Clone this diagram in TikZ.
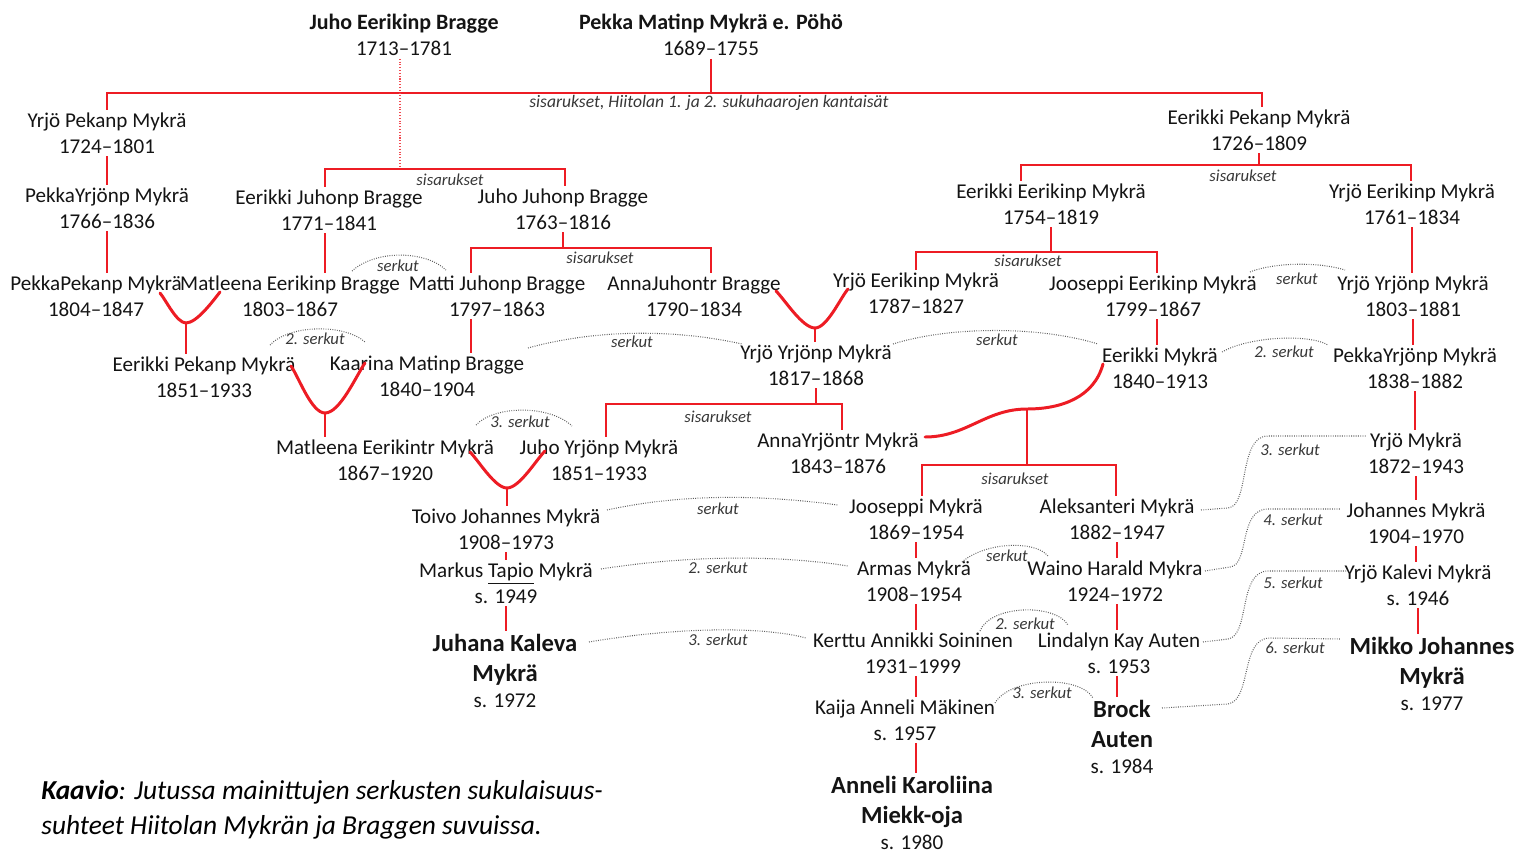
\documentclass[tikz,border=0pt]{standalone}
\usepackage{fontspec}
\setmainfont{Carlito}
\definecolor{kinRed}{RGB}{237,28,36}
\definecolor{dotGray}{RGB}{95,95,95}
\definecolor{inkGray}{RGB}{20,20,20}
\newcommand{\topname}[1]{{\fontsize{12.5}{14.8}\selectfont\bfseries #1}}

\begin{document}
\begin{tikzpicture}[x=0.02cm, y=-0.02cm,
            personNode/.style={align=center, inner sep=1.5pt, text=inkGray, font=\fontsize{12}{14.8}\selectfont},
            keyNode/.style={personNode, font=\fontsize{14}{17}\selectfont},
            tagNode/.style={inner sep=0pt, text=inkGray!85, font=\fontsize{9.5}{11}\selectfont\itshape},
            kinLine/.style={draw=kinRed, line width=0.9pt},
            wedLine/.style={draw=kinRed, line width=1.7pt, line cap=round},
            cousinLine/.style={draw=dotGray, line width=0.6pt, dash pattern=on 0.5pt off 0.8pt}]

            \useasboundingbox (0,0) rectangle (1521,852);

            % people
            \node [personNode] (juhoEB) at (404,35) {\topname{Juho Eerikinp Bragge}\\1713–1781};
            \node [personNode] (pekkaMM) at (711,35) {\topname{Pekka Matinp Mykrä e. Pöhö}\\1689–1755};
            \node [personNode] (yrjoPM) at (107,133) {Yrjö Pekanp Mykrä\\1724–1801};
            \node [personNode] (eerikkiPM) at (1259,130) {Eerikki Pekanp Mykrä\\1726–1809};
            \node [personNode] (pekkaYM1) at (107,208) {PekkaYrjönp Mykrä\\1766–1836};
            \node [personNode] (eerikkiJB) at (329,210) {Eerikki Juhonp Bragge\\1771–1841};
            \node [personNode] (juhoJB) at (563,209) {Juho Juhonp Bragge\\1763–1816};
            \node [personNode] (eerikkiEM) at (1051,204) {Eerikki Eerikinp Mykrä\\1754–1819};
            \node [personNode] (yrjoEM) at (1412,204) {Yrjö Eerikinp Mykrä\\1761–1834};
            \node [personNode] (pekkaPM) at (96,296) {PekkaPekanp Mykrä\\1804–1847};
            \node [personNode] (matleenaEB) at (290,296) {Matleena Eerikinp Bragge\\1803–1867};
            \node [personNode] (mattiJB) at (497,296) {Matti Juhonp Bragge\\1797–1863};
            \node [personNode] (annaJB) at (694,296) {AnnaJuhontr Bragge\\1790–1834};
            \node [personNode] (yrjoEM2) at (916,293) {Yrjö Eerikinp Mykrä\\1787–1827};
            \node [personNode] (jooseppiEM) at (1153,296) {Jooseppi Eerikinp Mykrä\\1799–1867};
            \node [personNode] (yrjoYM1) at (1413,296) {Yrjö Yrjönp Mykrä\\1803–1881};
            \node [personNode] (eerikkiPM2) at (204,377) {Eerikki Pekanp Mykrä\\1851–1933};
            \node [personNode] (kaarinaMB) at (427,376) {Kaarina Matinp Bragge\\1840–1904};
            \node [personNode] (yrjoYM2) at (816,365) {Yrjö Yrjönp Mykrä\\1817–1868};
            \node [personNode] (eerikkiM) at (1160,368) {Eerikki Mykrä\\1840–1913};
            \node [personNode] (pekkaYM2) at (1415,368) {PekkaYrjönp Mykrä\\1838–1882};
            \node [personNode] (matleenaEM) at (385,460) {Matleena Eerikintr Mykrä\\1867–1920};
            \node [personNode] (juhoYM) at (599,460) {Juho Yrjönp Mykrä\\1851–1933};
            \node [personNode] (annaYM) at (838,453) {AnnaYrjöntr Mykrä\\1843–1876};
            \node [personNode] (yrjoM) at (1416,453) {Yrjö Mykrä\\1872–1943};
            \node [personNode] (toivoJM) at (506,529) {Toivo Johannes Mykrä\\1908–1973};
            \node [personNode] (jooseppiM) at (916,519) {Jooseppi Mykrä\\1869–1954};
            \node [personNode] (aleksanteriM) at (1117,519) {Aleksanteri Mykrä\\1882–1947};
            \node [personNode] (johannesM) at (1416,523) {Johannes Mykrä\\1904–1970};
            \node [personNode] (markusTM) at (506,583) {Markus \underline{Tapio} Mykrä\\s. 1949};
            \node [personNode] (armasM) at (914,581) {Armas Mykrä\\1908–1954};
            \node [personNode] (wainoHM) at (1115,581) {Waino Harald Mykra\\1924–1972};
            \node [personNode] (yrjoKM) at (1418,585) {Yrjö Kalevi Mykrä\\s. 1946};
            \node [keyNode] (juhanaKM) at (505,671) {\textbf{Juhana Kaleva}\\\textbf{Mykrä}\\[-2pt]{\fontsize{12}{14.8}\selectfont s. 1972}};
            \node [personNode] (kerttuAS) at (913,653) {Kerttu Annikki Soininen\\1931–1999};
            \node [personNode] (lindalynKA) at (1119,653) {Lindalyn Kay Auten\\s. 1953};
            \node [keyNode] (mikkoJM) at (1432,674) {\textbf{Mikko Johannes}\\\textbf{Mykrä}\\[-2pt]{\fontsize{12}{14.8}\selectfont s. 1977}};
            \node [personNode] (kaijaAM) at (905,720) {Kaija Anneli Mäkinen\\s. 1957};
            \node [keyNode] (brockA) at (1122,737) {\textbf{Brock}\\\textbf{Auten}\\[-2pt]{\fontsize{12}{14.8}\selectfont s. 1984}};
            \node [keyNode] (anneliKM) at (912,813) {\textbf{Anneli Karoliina}\\\textbf{Miekk-oja}\\[-2pt]{\fontsize{12}{14.8}\selectfont s. 1980}};

            \node [anchor=west, align=left, inner sep=0pt, text=black, font=\fontsize{15.6}{20}\selectfont\itshape] (caption) at (41,810)
                {\textbf{Kaavio}: Jutussa mainittujen serkusten sukulaisuus-\\suhteet Hiitolan Mykrän ja Braggen suvuissa.};

            % sibling bars
            \coordinate (s1a) at (107,93);
            \coordinate (s1b) at (1262,93);
            \draw[kinLine] (pekkaMM.south) -- (pekkaMM.south |- s1a);
            \draw[kinLine] (s1a |- yrjoPM.north) -- (s1a) -- (s1b) -- (s1b |- eerikkiPM.north);
            \node [tagNode, font=\fontsize{10}{11}\selectfont\itshape] (tag1) at (709,103) {sisarukset, Hiitolan 1. ja 2. sukuhaarojen kantaisät};

            \coordinate (s2a) at (325,169);
            \coordinate (s2m) at (400,169);
            \coordinate (s2b) at (565,169);
            \draw[draw=kinRed!80, line width=0.6pt, densely dotted] (juhoEB.south -| s2m) -- (s2m);
            \draw[kinLine] (s2a |- eerikkiJB.north) -- (s2a) -- (s2b) -- (s2b |- juhoJB.north);
            \node [tagNode] (tag2) at (450,180) {sisarukset};

            \coordinate (s3a) at (471,248);
            \coordinate (s3b) at (711,248);
            \draw[kinLine] (juhoJB.south) -- (juhoJB.south |- s3a);
            \draw[kinLine] (s3a |- mattiJB.north) -- (s3a) -- (s3b) -- (s3b |- annaJB.north);
            \node [tagNode] (tag3) at (600,258) {sisarukset};

            \coordinate (s4a) at (1021,165);
            \coordinate (s4b) at (1411,165);
            \draw[kinLine] (eerikkiPM.south) -- (eerikkiPM.south |- s4a);
            \draw[kinLine] (s4a |- eerikkiEM.north) -- (s4a) -- (s4b) -- (s4b |- yrjoEM.north);
            \node [tagNode] (tag4) at (1243,176) {sisarukset};

            \coordinate (s5a) at (916,252);
            \coordinate (s5b) at (1157,252);
            \draw[kinLine] (eerikkiEM.south) -- (eerikkiEM.south |- s5a);
            \draw[kinLine] (s5a |- yrjoEM2.north) -- (s5a) -- (s5b) -- (s5b |- jooseppiEM.north);
            \node [tagNode] (tag5) at (1028,261) {sisarukset};

            \coordinate (s6a) at (606,404);
            \coordinate (s6b) at (842,404);
            \draw[kinLine] (yrjoYM2.south) -- (yrjoYM2.south |- s6a);
            \draw[kinLine] (s6a |- juhoYM.north) -- (s6a) -- (s6b) -- (s6b |- annaYM.north);
            \node [tagNode] (tag6) at (718,417) {sisarukset};

            \coordinate (s7a) at (922,465);
            \coordinate (s7b) at (1116,465);
            \draw[kinLine] (s7a |- jooseppiM.north) -- (s7a) -- (s7b) -- (s7b |- aleksanteriM.north);
            \node [tagNode] (tag7) at (1015,479) {sisarukset};

            % parent to child
            \draw[kinLine] (yrjoPM.south) -- (yrjoPM.south |- pekkaYM1.north);
            \draw[kinLine] (pekkaYM1.south) -- (pekkaYM1.south |- pekkaPM.north);
            \draw[kinLine] (eerikkiJB.south -| s2a) -- (s2a |- matleenaEB.north);
            \draw[kinLine] (mattiJB.south -| s3a) -- (s3a |- kaarinaMB.north);
            \draw[kinLine] (jooseppiEM.south -| s5b) -- (s5b |- eerikkiM.north);
            \draw[kinLine] (yrjoEM.south) -- (yrjoEM.south |- yrjoYM1.north);
            \draw[kinLine] (yrjoYM1.south) -- (yrjoYM1.south |- pekkaYM2.north);
            \draw[kinLine] (pekkaYM2.south) -- (pekkaYM2.south |- yrjoM.north);
            \draw[kinLine] (yrjoM.south) -- (yrjoM.south |- johannesM.north);
            \draw[kinLine] (johannesM.south) -- (johannesM.south |- yrjoKM.north);
            \draw[kinLine] (yrjoKM.south) -- (yrjoKM.south |- mikkoJM.north);
            \draw[kinLine] (toivoJM.south) -- (toivoJM.south |- markusTM.north);
            \draw[kinLine] (markusTM.south) -- (markusTM.south |- juhanaKM.north);
            \draw[kinLine] (jooseppiM.south) -- (jooseppiM.south |- armasM.north);
            \draw[kinLine] (armasM.south -| jooseppiM.south) -- (jooseppiM.south |- kerttuAS.north);
            \draw[kinLine] (kerttuAS.south -| jooseppiM.south) -- (jooseppiM.south |- kaijaAM.north);
            \draw[kinLine] (kaijaAM.south -| jooseppiM.south) -- (jooseppiM.south |- anneliKM.north);
            \draw[kinLine] (aleksanteriM.south) -- (aleksanteriM.south |- wainoHM.north);
            \draw[kinLine] (wainoHM.south -| aleksanteriM.south) -- (aleksanteriM.south |- lindalynKA.north);
            \draw[kinLine] (lindalynKA.south -| aleksanteriM.south) -- (aleksanteriM.south |- brockA.north);

            % marriages
            \coordinate (m1l) at (160,293);
            \coordinate (m1) at (186,323);
            \coordinate (m1r) at (220,292);
            \draw[wedLine] (m1l) to[out=-50,in=180,looseness=0.6] (m1) to[out=0,in=-128,looseness=0.6] (m1r);
            \draw[kinLine] (m1) -- (m1 |- eerikkiPM2.north);

            \coordinate (m2l) at (291,366);
            \coordinate (m2) at (325,413);
            \coordinate (m2r) at (365,363);
            \draw[wedLine] (m2l) to[out=-55,in=180,looseness=0.6] (m2) to[out=0,in=-125,looseness=0.6] (m2r);
            \draw[kinLine] (m2) -- (m2 |- matleenaEM.north);

            \coordinate (m3l) at (776,291);
            \coordinate (m3) at (815,328);
            \coordinate (m3r) at (848,289);
            \draw[wedLine] (m3l) to[out=-45,in=180,looseness=0.6] (m3) to[out=0,in=-130,looseness=0.6] (m3r);
            \draw[kinLine] (m3) -- (m3 |- yrjoYM2.north);

            \coordinate (m4l) at (470,452);
            \coordinate (m4) at (507,488);
            \coordinate (m4r) at (545,451);
            \draw[wedLine] (m4l) to[out=-45,in=180,looseness=0.6] (m4) to[out=0,in=-135,looseness=0.6] (m4r);
            \draw[kinLine] (m4) -- (m4 |- toivoJM.north);

            \coordinate (m5l) at (925,437);
            \coordinate (m5) at (1027,409);
            \coordinate (m5r) at (1103,364);
            \draw[wedLine] (m5l) to[out=0,in=180] (m5) to[out=0,in=-105] (m5r);
            \draw[kinLine] (m5) -- (m5 |- s7a);

            % cousins
            \coordinate (c1a) at (352,271);
            \coordinate (c1b) at (446,270);
            \draw[cousinLine] (c1a) .. controls (375,250) and (425,250) .. (c1b);
            \node [tagNode] (k1) at (398,266) {serkut};

            \coordinate (c2a) at (270,345);
            \coordinate (c2b) at (365,342);
            \draw[cousinLine] (c2a) .. controls (290,324) and (345,324) .. (c2b);
            \node [tagNode] (k2) at (315,339) {2. serkut};

            \coordinate (c3a) at (528,348);
            \coordinate (c3b) at (742,344);
            \draw[cousinLine] (c3a) .. controls (600,328) and (680,330) .. (c3b);
            \node [tagNode] (k3) at (632,342) {serkut};

            \coordinate (c4a) at (893,344);
            \coordinate (c4b) at (1098,344);
            \draw[cousinLine] (c4a) .. controls (950,326) and (1040,326) .. (c4b);
            \node [tagNode] (k4) at (997,340) {serkut};

            \coordinate (c5a) at (1250,272);
            \coordinate (c5b) at (1345,270);
            \draw[cousinLine] (c5a) .. controls (1275,262) and (1320,262) .. (c5b);
            \node [tagNode] (k5) at (1297,279) {serkut};

            \coordinate (c6a) at (1222,352);
            \coordinate (c6b) at (1328,345);
            \draw[cousinLine] (c6a) .. controls (1250,336) and (1310,334) .. (c6b);
            \node [tagNode] (k6) at (1284,352) {2. serkut};

            \coordinate (c7a) at (476,425);
            \coordinate (c7b) at (572,426);
            \draw[cousinLine] (c7a) .. controls (495,405) and (550,405) .. (c7b);
            \node [tagNode] (k7) at (520,422) {3. serkut};

            \coordinate (c8a) at (607,510);
            \coordinate (c8b) at (838,505);
            \draw[cousinLine] (c8a) .. controls (690,492) and (770,496) .. (c8b);
            \node [tagNode] (k8) at (718,509) {serkut};

            \coordinate (c9a) at (601,569);
            \coordinate (c9b) at (848,566);
            \draw[cousinLine] (c9a) .. controls (690,555) and (780,555) .. (c9b);
            \node [tagNode] (k9) at (718,568) {2. serkut};

            \coordinate (c10a) at (962,562);
            \coordinate (c10b) at (1048,556);
            \draw[cousinLine] (c10a) .. controls (985,542) and (1035,540) .. (c10b);
            \node [tagNode] (k10) at (1007,556) {serkut};

            \coordinate (c11a) at (589,642);
            \coordinate (c11b) at (806,638);
            \draw[cousinLine] (c11a) .. controls (690,625) and (770,628) .. (c11b);
            \node [tagNode] (k11) at (718,640) {3. serkut};

            \coordinate (c12a) at (980,631);
            \coordinate (c12b) at (1068,625);
            \draw[cousinLine] (c12a) .. controls (990,605) and (1055,603) .. (c12b);
            \node [tagNode] (k12) at (1025,624) {2. serkut};

            \coordinate (c13a) at (995,703);
            \coordinate (c13b) at (1093,698);
            \draw[cousinLine] (c13a) .. controls (1010,677) and (1080,675) .. (c13b);
            \node [tagNode] (k13) at (1042,693) {3. serkut};

            \coordinate (c14a) at (1201,510);
            \coordinate (c14b) at (1367,436);
            \draw[cousinLine] (c14a) -- (1228,508) .. controls (1250,506) and (1238,436) .. (1268,436) -- (c14b);
            \node [tagNode] (k14) at (1290,450) {3. serkut};

            \coordinate (c15a) at (1205,571);
            \coordinate (c15b) at (1340,509);
            \draw[cousinLine] (c15a) -- (1230,567) .. controls (1250,565) and (1238,509) .. (1268,509) -- (c15b);
            \node [tagNode] (k15) at (1293,520) {4. serkut};

            \coordinate (c16a) at (1203,642);
            \coordinate (c16b) at (1346,571);
            \draw[cousinLine] (c16a) -- (1228,639) .. controls (1250,636) and (1238,571) .. (1268,571) -- (c16b);
            \node [tagNode] (k16) at (1293,583) {5. serkut};

            \coordinate (c17a) at (1162,708);
            \coordinate (c17b) at (1340,639);
            \draw[cousinLine] (c17a) -- (1228,704) .. controls (1252,700) and (1240,638) .. (1270,638) -- (c17b);
            \node [tagNode] (k17) at (1295,648) {6. serkut};
        \end{tikzpicture}
\end{document}
